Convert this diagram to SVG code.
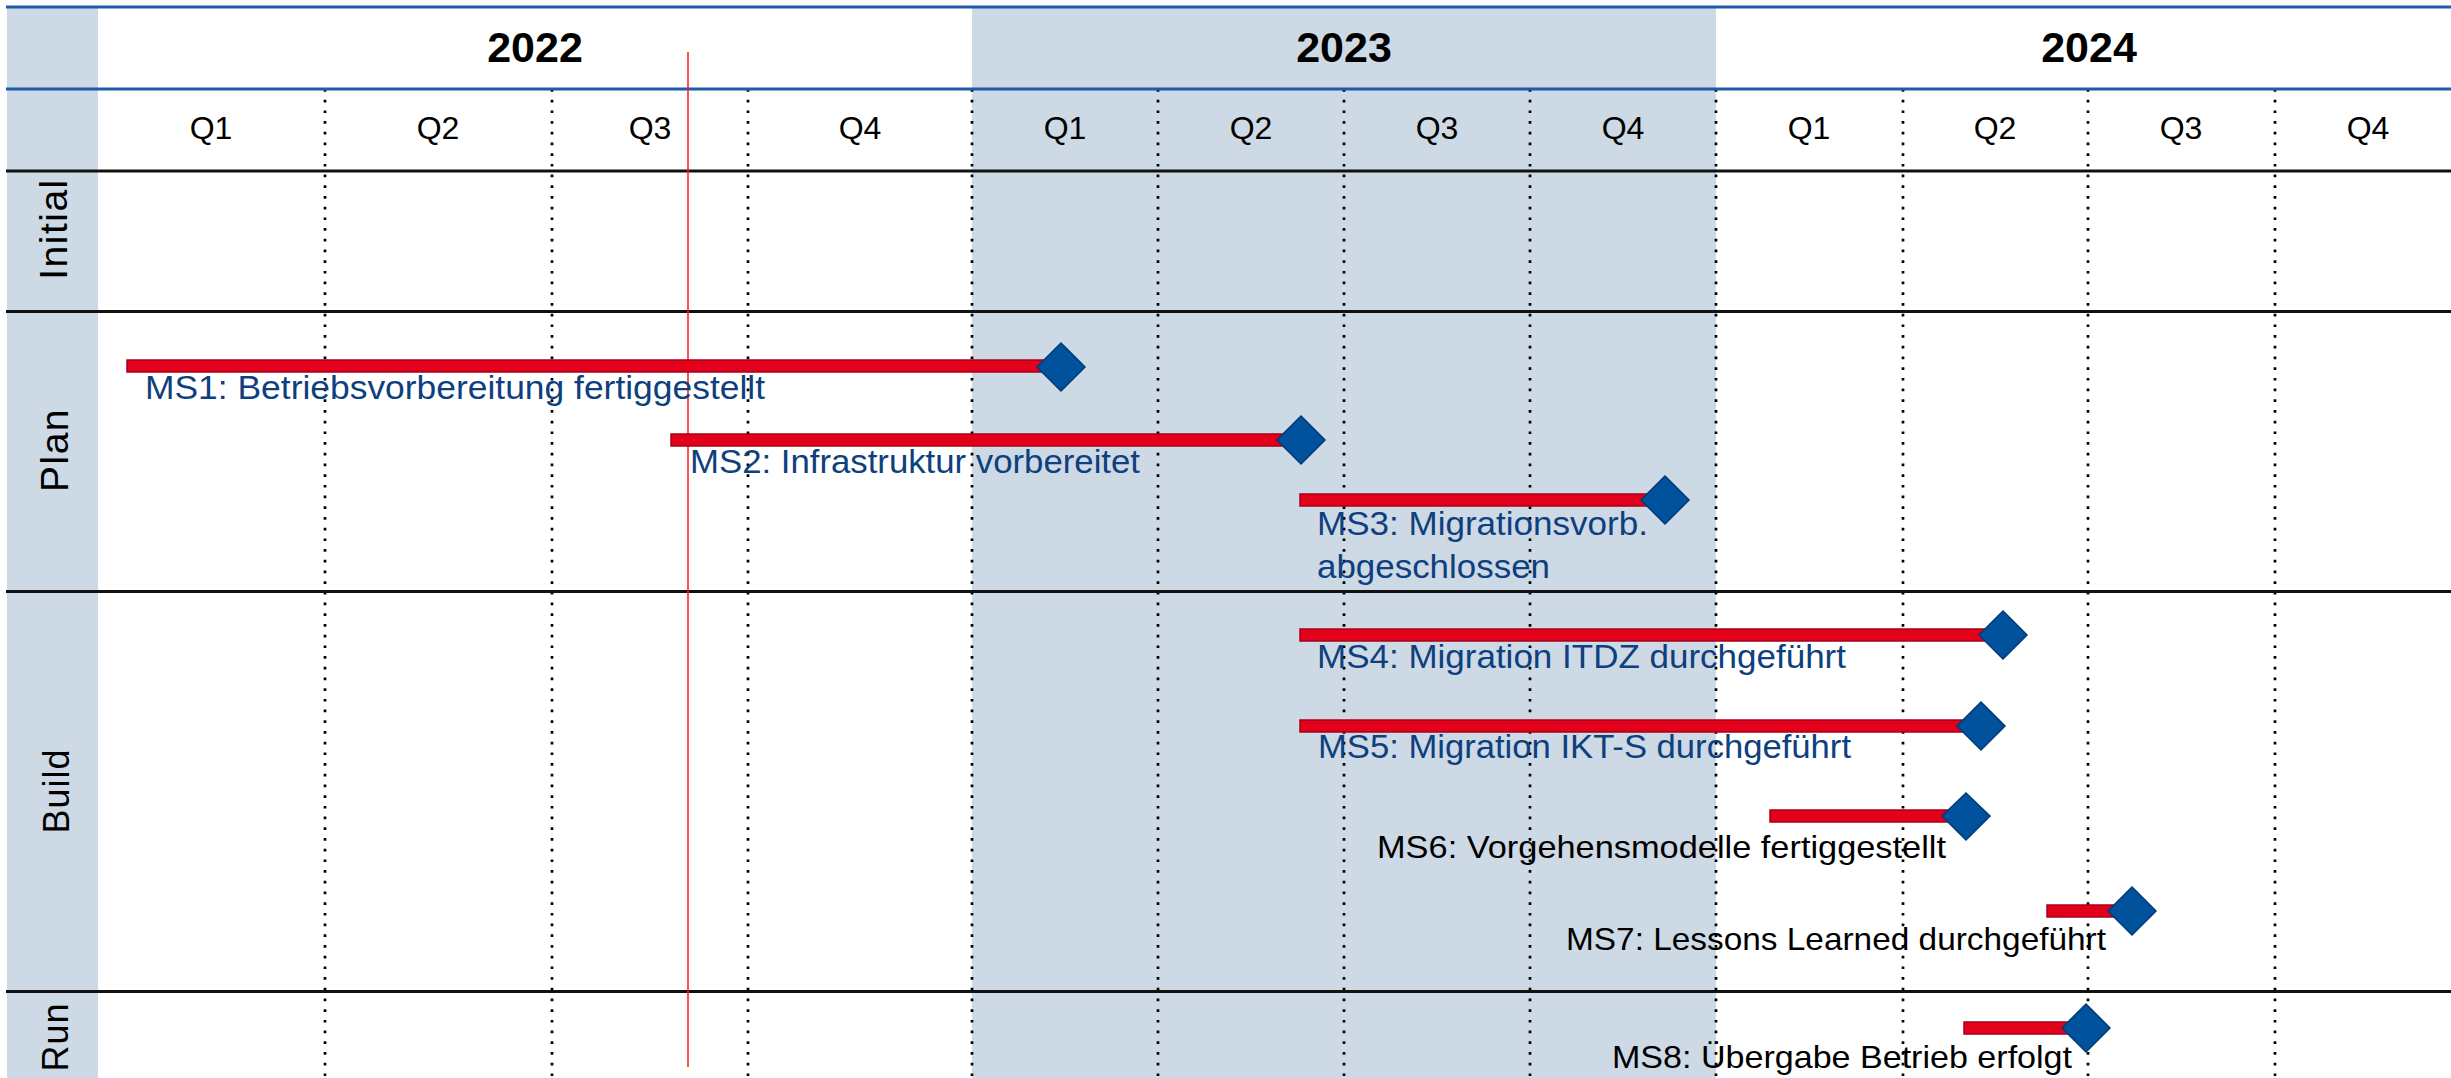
<svg xmlns="http://www.w3.org/2000/svg" width="2451" height="1078" viewBox="0 0 2451 1078">
<style>
.bg{fill:#FFFFFF}
.shade{fill:#CDD9E5}
.blue{stroke:#1F5BA8;stroke-width:3}
.black{stroke:#111111;stroke-width:3}
.dot{stroke:#000000;stroke-width:2.7;stroke-dasharray:2.7 8}
.today{stroke:#FF1A1A;stroke-width:1.5}
.year{font-family:"Liberation Sans",Arial,sans-serif;font-weight:bold;font-size:43px;text-anchor:middle;fill:#000}
.q{font-family:"Liberation Sans",Arial,sans-serif;font-size:32px;text-anchor:middle;fill:#000}
.lane{font-family:"Liberation Sans",Arial,sans-serif;font-size:39px;text-anchor:middle;fill:#000;letter-spacing:1.5px}
.lane2{font-family:"Liberation Sans",Arial,sans-serif;font-size:36px;text-anchor:middle;fill:#000;letter-spacing:1px}
.ms{font-family:"Liberation Sans",Arial,sans-serif;font-size:34px;fill:#0E3F7E}
.msb{font-family:"Liberation Sans",Arial,sans-serif;font-size:32px;fill:#000}
.bar{fill:#E2001A;stroke:#A8001A;stroke-width:1.5}
.dia{fill:#00529C;stroke:#003B75;stroke-width:1.5}
</style>
<rect class="bg" x="0" y="0" width="2451" height="1078"/>
<g id="background">
  <rect class="shade" x="7" y="7" width="91" height="1071"/>
  <rect class="shade" x="972" y="7" width="744" height="1071"/>
</g>
<g id="grid">
  <line class="dot" x1="325" y1="89" x2="325" y2="1078"/>
  <line class="dot" x1="552" y1="89" x2="552" y2="1078"/>
  <line class="dot" x1="748" y1="89" x2="748" y2="1078"/>
  <line class="dot" x1="972" y1="89" x2="972" y2="1078"/>
  <line class="dot" x1="1158" y1="89" x2="1158" y2="1078"/>
  <line class="dot" x1="1344" y1="89" x2="1344" y2="1078"/>
  <line class="dot" x1="1530" y1="89" x2="1530" y2="1078"/>
  <line class="dot" x1="1716" y1="89" x2="1716" y2="1078"/>
  <line class="dot" x1="1903" y1="89" x2="1903" y2="1078"/>
  <line class="dot" x1="2088" y1="89" x2="2088" y2="1078"/>
  <line class="dot" x1="2275" y1="89" x2="2275" y2="1078"/>
  <line class="blue" x1="6" y1="7" x2="2451" y2="7"/>
  <line class="blue" x1="6" y1="89" x2="2451" y2="89"/>
  <line class="black" x1="6" y1="171" x2="2451" y2="171"/>
  <line class="black" x1="6" y1="311.5" x2="2451" y2="311.5"/>
  <line class="black" x1="6" y1="591.5" x2="2451" y2="591.5"/>
  <line class="black" x1="6" y1="991.5" x2="2451" y2="991.5"/>
</g>
<g id="years">
  <text class="year" x="535" y="62">2022</text>
  <text class="year" x="1344" y="62">2023</text>
  <text class="year" x="2089" y="62">2024</text>
</g>
<g id="quarters">
  <text class="q" x="211" y="139">Q1</text>
  <text class="q" x="438" y="139">Q2</text>
  <text class="q" x="650" y="139">Q3</text>
  <text class="q" x="860" y="139">Q4</text>
  <text class="q" x="1065" y="139">Q1</text>
  <text class="q" x="1251" y="139">Q2</text>
  <text class="q" x="1437" y="139">Q3</text>
  <text class="q" x="1623" y="139">Q4</text>
  <text class="q" x="1809" y="139">Q1</text>
  <text class="q" x="1995" y="139">Q2</text>
  <text class="q" x="2181" y="139">Q3</text>
  <text class="q" x="2368" y="139">Q4</text>
</g>
<g id="lanes">
  <text class="lane" transform="translate(67,229) rotate(-90)">Initial</text>
  <text class="lane" transform="translate(68,450) rotate(-90)">Plan</text>
  <text class="lane2" transform="translate(69,791) rotate(-90)">Build</text>
  <text class="lane2" transform="translate(68,1037) rotate(-90)">Run</text>
</g>
<line id="today" class="today" x1="688" y1="52" x2="688" y2="1067"/>
<g id="ms1">
  <rect class="bar" x="127" y="360" width="934" height="12"/>
  <path class="dia" d="M1061 343 L1085 367 L1061 391 L1037 367 Z"/>
  <text class="ms" x="145" y="399" textLength="620" lengthAdjust="spacingAndGlyphs">MS1: Betriebsvorbereitung fertiggestellt</text>
</g>
<g id="ms2">
  <rect class="bar" x="671" y="434" width="630" height="12"/>
  <path class="dia" d="M1301 416 L1325 440 L1301 464 L1277 440 Z"/>
  <text class="ms" x="690" y="473" textLength="450" lengthAdjust="spacingAndGlyphs">MS2: Infrastruktur vorbereitet</text>
</g>
<g id="ms3">
  <rect class="bar" x="1300" y="494" width="365" height="12"/>
  <path class="dia" d="M1665 476 L1689 500 L1665 524 L1641 500 Z"/>
  <text class="ms" x="1317" y="535" textLength="331" lengthAdjust="spacingAndGlyphs">MS3: Migrationsvorb.</text>
  <text class="ms" x="1317" y="578" textLength="233" lengthAdjust="spacingAndGlyphs">abgeschlossen</text>
</g>
<g id="ms4">
  <rect class="bar" x="1300" y="629" width="703" height="12"/>
  <path class="dia" d="M2003 611 L2027 635 L2003 659 L1979 635 Z"/>
  <text class="ms" x="1317" y="668" textLength="529" lengthAdjust="spacingAndGlyphs">MS4: Migration ITDZ durchgeführt</text>
</g>
<g id="ms5">
  <rect class="bar" x="1300" y="720" width="681" height="12"/>
  <path class="dia" d="M1981 702 L2005 726 L1981 750 L1957 726 Z"/>
  <text class="ms" x="1318" y="758" textLength="533" lengthAdjust="spacingAndGlyphs">MS5: Migration IKT-S durchgeführt</text>
</g>
<g id="ms6">
  <rect class="bar" x="1770" y="810" width="196" height="12"/>
  <path class="dia" d="M1966 793 L1990 816 L1966 840 L1942 816 Z"/>
  <text class="msb" x="1377" y="858" textLength="569" lengthAdjust="spacingAndGlyphs">MS6: Vorgehensmodelle fertiggestellt</text>
</g>
<g id="ms7">
  <rect class="bar" x="2047" y="905" width="85" height="12"/>
  <path class="dia" d="M2132 887 L2156 911 L2132 935 L2108 911 Z"/>
  <text class="msb" x="1566" y="950" textLength="540" lengthAdjust="spacingAndGlyphs">MS7: Lessons Learned durchgeführt</text>
</g>
<g id="ms8">
  <rect class="bar" x="1964" y="1022" width="122" height="12"/>
  <path class="dia" d="M2086 1004 L2110 1028 L2086 1052 L2062 1028 Z"/>
  <text class="msb" x="1612" y="1068" textLength="460" lengthAdjust="spacingAndGlyphs">MS8: Übergabe Betrieb erfolgt</text>
</g>
</svg>
